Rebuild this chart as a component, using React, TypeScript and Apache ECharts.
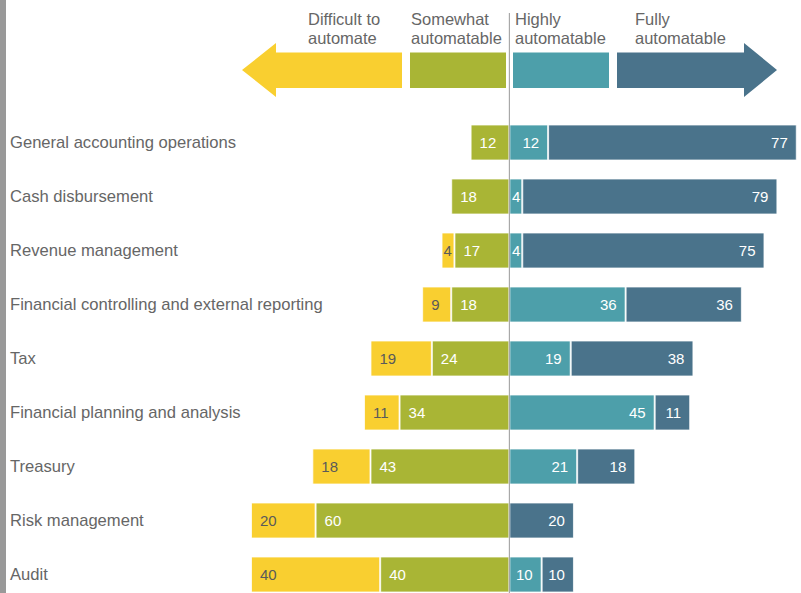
import React, { useEffect, useRef } from 'react';
import * as echarts from 'echarts';

const categories = [
  'General accounting operations',
  'Cash disbursement',
  'Revenue management',
  'Financial controlling and external reporting',
  'Tax',
  'Financial planning and analysis',
  'Treasury',
  'Risk management',
  'Audit',
];
const difficult = [0, 0, 4, 9, 19, 11, 18, 20, 40];
const somewhat = [12, 18, 17, 18, 24, 34, 43, 60, 40];
const highly = [12, 4, 4, 36, 19, 45, 21, 0, 10];
const fully = [77, 79, 75, 36, 38, 11, 18, 20, 10];
const legendLabels = ['Difficult to\nautomate', 'Somewhat\nautomatable', 'Highly\nautomatable', 'Fully\nautomatable'];

const C_YELLOW = '#F9CF30';
const C_GREEN = '#A9B535';
const C_TEAL = '#4D9FAA';
const C_DARK = '#4A738B';
const FONT = '"Liberation Sans", Arial, Helvetica, sans-serif';

function makeData(vals: number[], sign: number) {
  return vals.map((v) =>
    v === 0
      ? null
      : { value: sign * v, label: { distance: v < 6 ? 2 : 9 } }
  );
}

function makeSeries(name: string, vals: number[], sign: number, color: string, textColor: string) {
  return {
    name,
    type: 'bar',
    stack: 'all',
    barWidth: 36,
    data: makeData(vals, sign),
    itemStyle: { color, borderColor: 'rgba(255,255,255,0.75)', borderWidth: 1 },
    label: {
      show: true,
      position: sign < 0 ? 'insideLeft' : 'insideRight',
      color: textColor,
      fontSize: 15,
      fontFamily: FONT,
      formatter: (p: any) => (p.value ? String(Math.abs(p.value)) : ''),
    },
    emphasis: { disabled: true },
  };
}

export default function App() {
  const ref = useRef<HTMLDivElement>(null);
  useEffect(() => {
    if (!ref.current) return;
    const chart = echarts.init(ref.current, null, { renderer: 'svg' });
    chart.setOption({
      animation: false,
      grid: { left: 251, right: 1, top: 115.5, height: 486 },
      xAxis: { type: 'value', min: -80, max: 90, show: false },
      yAxis: {
        type: 'category',
        data: categories,
        inverse: true,
        axisLine: { show: false, onZero: false },
        axisTick: { show: false },
        splitLine: { show: false },
        axisLabel: { align: 'left', margin: 241, fontSize: 16.6, color: '#666', fontFamily: FONT },
      },
      series: [
        makeSeries('Somewhat automatable', somewhat, -1, C_GREEN, '#fff'),
        makeSeries('Difficult to automate', difficult, -1, C_YELLOW, '#5a5a5a'),
        makeSeries('Highly automatable', highly, 1, C_TEAL, '#fff'),
        makeSeries('Fully automatable', fully, 1, C_DARK, '#fff'),
      ],
    });
    const x0 = chart.convertToPixel({ xAxisIndex: 0 }, 0) as number;
    const textStyle = (t: string) => ({ text: t, fontSize: 16.5, lineHeight: 19, fill: '#666', fontFamily: FONT });
    chart.setOption({
      graphic: [
        { type: 'rect', shape: { x: 0, y: 0, width: 6, height: 620 }, style: { fill: '#999' } },
        {
          type: 'line',
          shape: { x1: x0, y1: 13, x2: x0, y2: 620 },
          style: { stroke: '#999', lineWidth: 1 },
          z: 100,
        },
        {
          type: 'polygon',
          shape: { points: [[242, 70], [276, 43], [276, 52.5], [402, 52.5], [402, 88], [276, 88], [276, 97]] },
          style: { fill: C_YELLOW },
        },
        { type: 'rect', shape: { x: 410, y: 52.5, width: 96, height: 35.5 }, style: { fill: C_GREEN } },
        { type: 'rect', shape: { x: 513, y: 52.5, width: 96, height: 35.5 }, style: { fill: C_TEAL } },
        {
          type: 'polygon',
          shape: { points: [[617, 52.5], [744, 52.5], [744, 43], [777, 70], [744, 97], [744, 88], [617, 88]] },
          style: { fill: C_DARK },
        },
        { type: 'text', x: 308, y: 9, style: textStyle(legendLabels[0]) },
        { type: 'text', x: 411, y: 9, style: textStyle(legendLabels[1]) },
        { type: 'text', x: 515, y: 9, style: textStyle(legendLabels[2]) },
        { type: 'text', x: 635, y: 9, style: textStyle(legendLabels[3]) },
      ],
    });
    return () => chart.dispose();
  }, []);
  return (
    <div style={{ position: 'absolute', left: 0, top: 0, width: 801, height: 593, overflow: 'hidden', background: '#fff' }}>
      <div ref={ref} style={{ width: 801, height: 620 }} />
    </div>
  );
}
